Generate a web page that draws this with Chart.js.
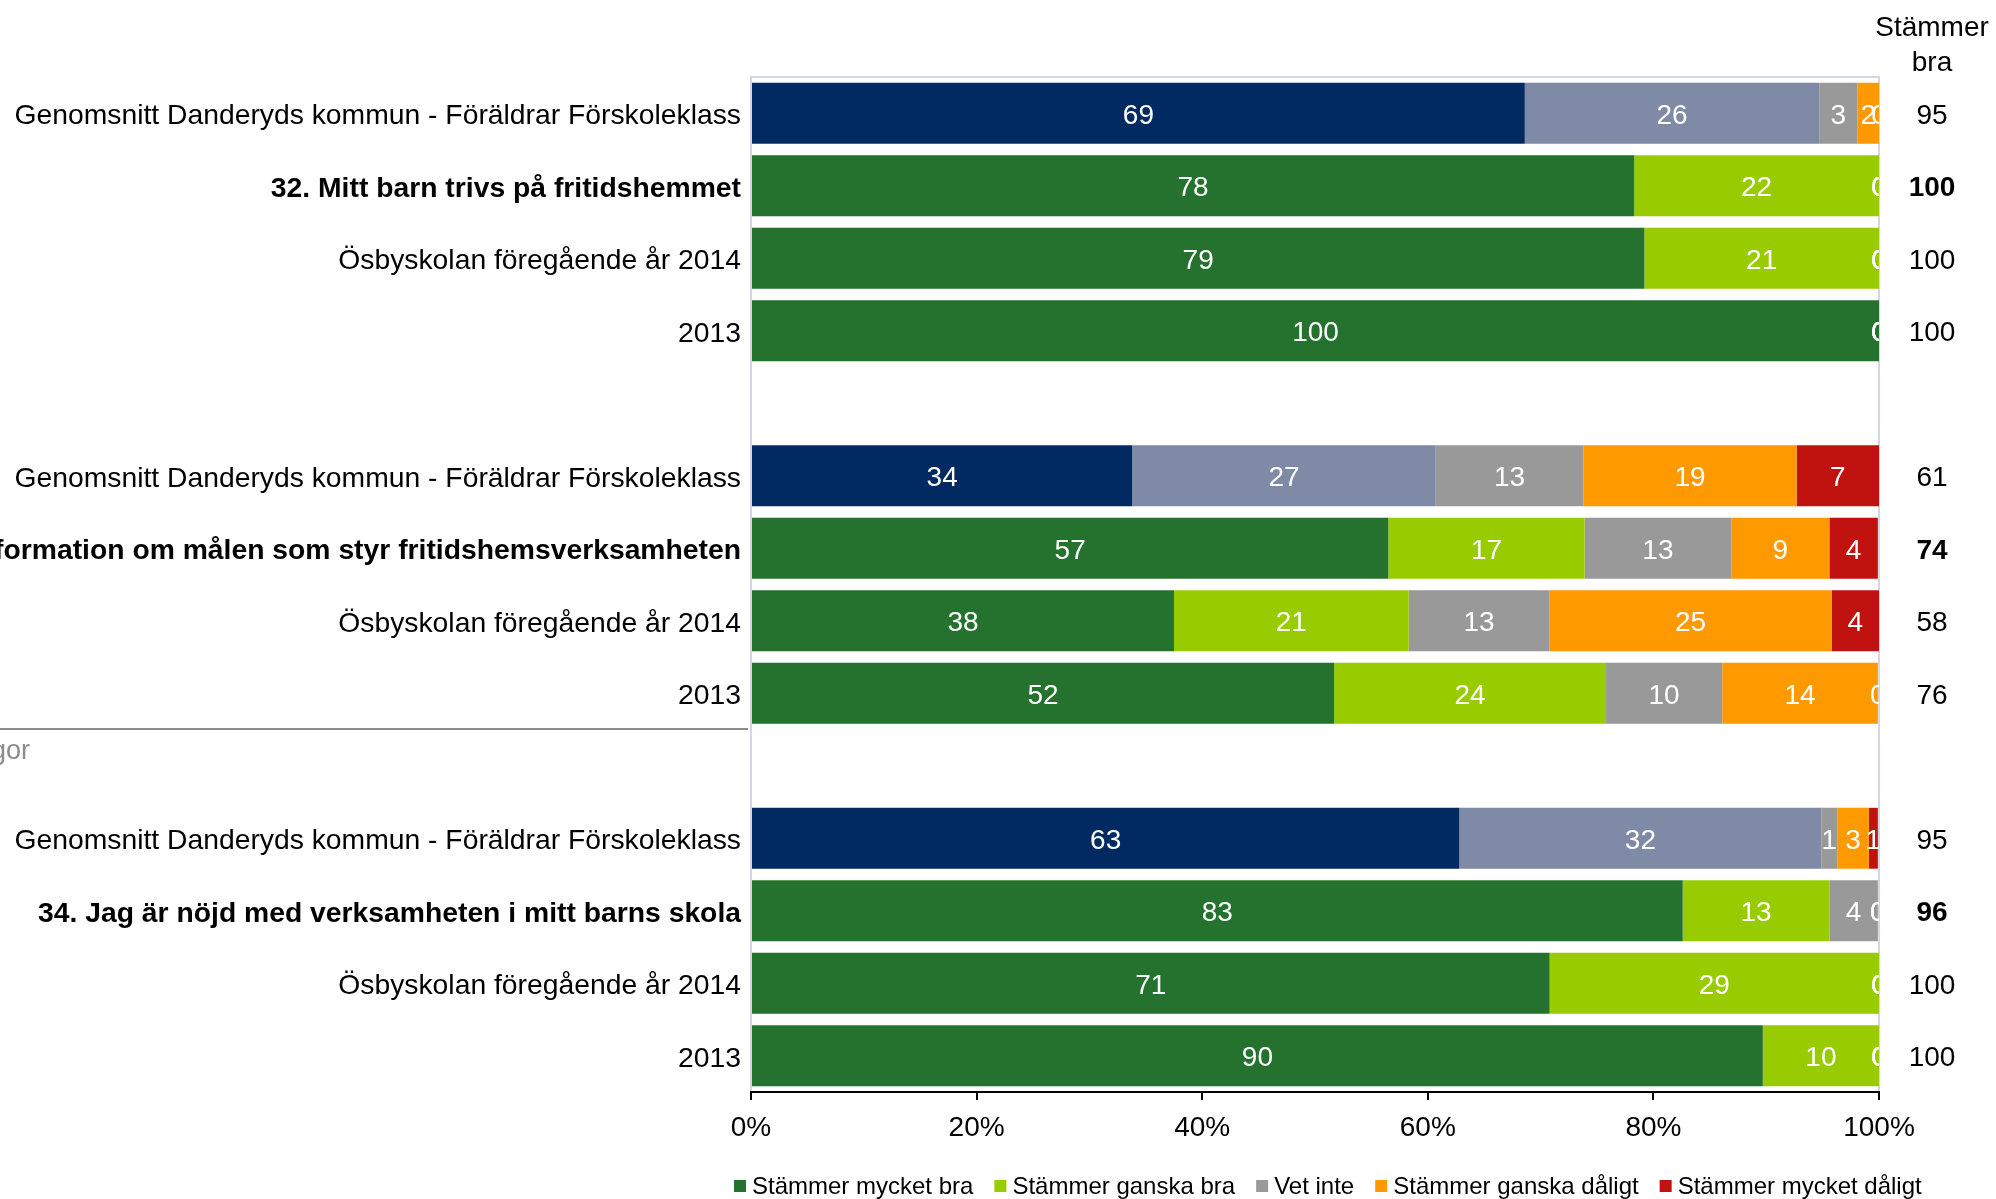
<!DOCTYPE html>
<html lang="sv">

<head>
    <meta charset="UTF-8">
    <script src="https://cdn.jsdelivr.net/npm/chart.js"></script>
    <style>
        body { margin: 0; background: #fff; }
    </style>
</head>

<body>
    <canvas id="chart" width="1996" height="1199"></canvas>

    <script>
        // rader uppifrån och ned, tomma rader mellan frågorna
        const rowLabels = [
            'Genomsnitt Danderyds kommun - Föräldrar Förskoleklass',
            '32. Mitt barn trivs på fritidshemmet',
            'Ösbyskolan föregående år 2014',
            '2013',
            '',
            'Genomsnitt Danderyds kommun - Föräldrar Förskoleklass',
            '33. Jag får information om målen som styr fritidshemsverksamheten',
            'Ösbyskolan föregående år 2014',
            '2013',
            '',
            'Genomsnitt Danderyds kommun - Föräldrar Förskoleklass',
            '34. Jag är nöjd med verksamheten i mitt barns skola',
            'Ösbyskolan föregående år 2014',
            '2013'
        ];
        const boldRows = [0, 1, 0, 0, 0, 0, 1, 0, 0, 0, 0, 1, 0, 0];
        const avgRows = [1, 0, 0, 0, 0, 1, 0, 0, 0, 0, 1, 0, 0, 0];

        const mycketBra = [68.6, 78.3, 79.2, 100, null, 33.8, 56.5, 37.5, 51.7, null, 62.8, 82.6, 70.8, 89.7];
        const ganskaBra = [26.1, 21.7, 20.8, 0, null, 26.9, 17.4, 20.8, 24.1, null, 32.1, 13.0, 29.2, 10.3];
        const vetInte = [3.4, 0, 0, 0, null, 13.1, 13.0, 12.5, 10.3, null, 1.4, 4.3, 0, 0];
        const ganskaDaligt = [1.9, 0, 0, 0, null, 18.9, 8.7, 25.0, 13.8, null, 2.8, 0, 0, 0];
        const mycketDaligt = [0, 0, 0, 0, null, 7.3, 4.3, 4.2, 0, null, 0.8, 0, 0, 0];

        const stammerBra = [95, 100, 100, 100, null, 61, 74, 58, 76, null, 95, 96, 100, 100];

        const xTicks = [0, 20, 40, 60, 80, 100];

        const seriesNames = ['Stämmer mycket bra', 'Stämmer ganska bra', 'Vet inte', 'Stämmer ganska dåligt', 'Stämmer mycket dåligt'];
        const colors = ['#25722E', '#99CC00', '#999999', '#FF9900', '#C0120F'];
        const avgColors = ['#002A61', '#7F8AA6', '#999999', '#FF9900', '#C0120F'];

        const FONT = 'Liberation Sans, Arial, sans-serif';
        Chart.defaults.font.family = FONT;

        const series = [mycketBra, ganskaBra, vetInte, ganskaDaligt, mycketDaligt];

        const datasets = series.map((values, s) => ({
            label: seriesNames[s],
            data: values,
            backgroundColor: rowLabels.map((_, i) => avgRows[i] ? avgColors[s] : colors[s]),
            borderWidth: 0,
            barPercentage: 0.84,
            categoryPercentage: 1
        }));

        const extras = {
            id: 'extras',
            beforeDraw(chart) {
                const { ctx, chartArea: a } = chart;
                ctx.save();
                ctx.strokeStyle = '#d3d7e3';
                ctx.lineWidth = 2;
                ctx.strokeRect(a.left, a.top, a.right - a.left, a.bottom - a.top);
                ctx.restore();
            },
            afterDatasetsDraw(chart) {
                const { ctx, chartArea: a } = chart;
                ctx.save();
                ctx.beginPath();
                ctx.rect(a.left, a.top, a.right - a.left, a.bottom - a.top);
                ctx.clip();
                ctx.fillStyle = '#fff';
                ctx.font = '28px ' + FONT;
                ctx.textAlign = 'center';
                ctx.textBaseline = 'middle';
                chart.data.datasets.forEach((ds, di) => {
                    chart.getDatasetMeta(di).data.forEach((bar, i) => {
                        const v = ds.data[i];
                        if (v === null) return;
                        ctx.fillText(Math.round(v), (bar.x + bar.base) / 2, bar.y + 3);
                    });
                });
                ctx.restore();
            },
            afterDraw(chart) {
                const ctx = chart.ctx;
                const yScale = chart.scales.y;
                ctx.save();
                ctx.fillStyle = '#000';
                ctx.textAlign = 'center';
                ctx.textBaseline = 'middle';

                // kolumnen "Stämmer bra"
                ctx.font = '28px ' + FONT;
                ctx.fillText('Stämmer', 1932, 28);
                ctx.fillText('bra', 1932, 63);
                stammerBra.forEach((v, i) => {
                    if (v === null) return;
                    ctx.font = (boldRows[i] ? 'bold ' : '') + '28px ' + FONT;
                    ctx.fillText(v, 1932, yScale.getPixelForValue(i) + 3);
                });

                // förklaring
                ctx.font = '24px ' + FONT;
                ctx.textAlign = 'left';
                let x = 734;
                const y = 1186;
                seriesNames.forEach((name, s) => {
                    ctx.fillStyle = colors[s];
                    ctx.fillRect(x, y - 6, 12, 12);
                    ctx.fillStyle = '#000';
                    ctx.fillText(name, x + 18, y + 1);
                    x += 18 + ctx.measureText(name).width + 21;
                });

                // rest av diagrammet under (linje och text till vänster)
                ctx.strokeStyle = '#8c8c8c';
                ctx.lineWidth = 2;
                ctx.beginPath();
                ctx.moveTo(0, 729);
                ctx.lineTo(748, 729);
                ctx.stroke();
                ctx.fillStyle = '#8c8c8c';
                ctx.textAlign = 'right';
                ctx.font = '27px ' + FONT;
                ctx.fillText('Frågor', 30, 752);
                ctx.restore();
            }
        };

        new Chart(document.getElementById('chart'), {
            type: 'bar',
            data: {
                labels: rowLabels,
                datasets: datasets
            },
            options: {
                indexAxis: 'y',
                responsive: false,
                animation: false,
                layout: {
                    padding: { top: 77, right: 117, bottom: 47, left: 0 }
                },
                plugins: {
                    legend: { display: false },
                    tooltip: { enabled: false }
                },
                scales: {
                    x: {
                        stacked: true,
                        min: 0,
                        max: 100,
                        afterBuildTicks: scale => {
                            scale.ticks = xTicks.map(v => ({ value: v }));
                        },
                        ticks: {
                            callback: v => v + '%',
                            color: '#000',
                            font: { size: 28 },
                            padding: 11,
                            maxRotation: 0
                        },
                        grid: {
                            drawOnChartArea: false,
                            drawTicks: true,
                            tickLength: 8,
                            color: '#000',
                            lineWidth: 2
                        },
                        border: { display: true, color: '#000', width: 2 },
                        afterFit: scale => { scale.height = 60; }
                    },
                    y: {
                        stacked: true,
                        grid: { display: false },
                        border: { display: false },
                        ticks: {
                            autoSkip: false,
                            padding: 2,
                            labelOffset: 3,
                            color: '#000',
                            font: ctx => ({ size: 28.3, weight: boldRows[ctx.index] ? 'bold' : 'normal' })
                        },
                        afterFit: scale => { scale.width = 751; }
                    }
                }
            },
            plugins: [extras]
        });
    </script>

</body>

</html>
